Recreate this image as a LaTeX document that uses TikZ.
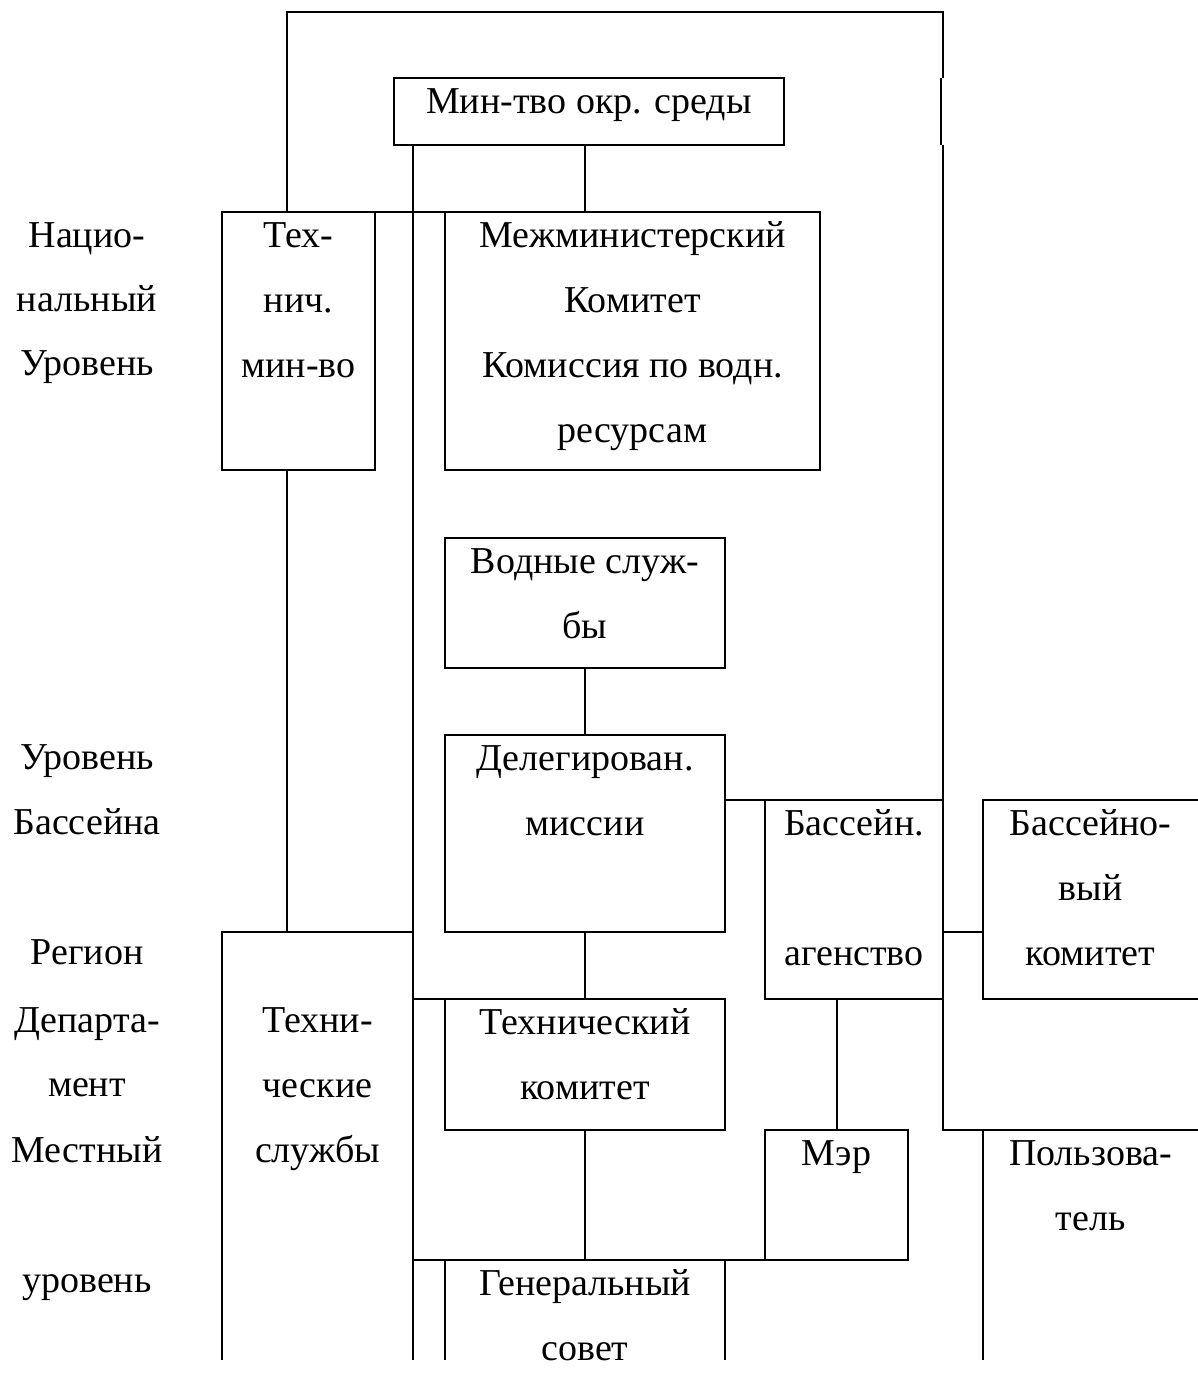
\documentclass[tikz,border=0pt]{standalone}
\usepackage{fontspec}
\setmainfont{Liberation Serif}

% a cell: width, height, lines of text set from the top
\newcommand{\cellbox}[3]{\parbox[t][#2][t]{#1}{\centering\rule{0pt}{17.5pt}#3}}

\tikzset{
  cell/.style={draw, inner sep=0pt, outer sep=0pt, anchor=north west},
  opencell/.style={cell, draw=none},
  lvl/.style={anchor=base},
}

\begin{document}
\begin{tikzpicture}[x=0.5pt, y=-0.5pt, line width=1pt,
    font=\fontsize{19}{32.5}\selectfont]
  \useasboundingbox (0,0) rectangle (1198,1386);

  % Boxes
  \node[cell] (min) at (394,78) {\cellbox{195pt}{33.5pt}{Мин-тво окр. среды}};
  \node[cell] (techmin) at (222,212) {\cellbox{76.5pt}{129pt}{Тех-\\нич.\\мин-во}};
  \node[cell] (interm) at (445,212) {\cellbox{187.5pt}{129pt}{Межминистерский\\Комитет\\Комиссия по водн.\\ресурсам}};
  \node[cell] (water) at (445,538) {\cellbox{140pt}{65pt}{Водные служ-\\бы}};
  \node[cell] (deleg) at (445,735) {\cellbox{140pt}{98.5pt}{Делегирован.\\миссии}};
  \node[cell] (basin) at (765,800) {\cellbox{89pt}{99.5pt}{Бассейн.\\\mbox{}\\агенство}};
  \node[opencell] (basincom) at (983,800) {\cellbox{107.5pt}{99.5pt}{Бассейно-\\вый\\комитет}};
  \node[opencell] (techserv) at (222,932) {\cellbox{95.5pt}{214pt}{\mbox{}\\Техни-\\ческие\\службы}};
  \node[cell] (techcom) at (445,999) {\cellbox{140pt}{65.5pt}{Технический\\комитет}};
  \node[cell] (mayor) at (765,1130) {\cellbox{71.5pt}{65pt}{Мэр}};
  \node[opencell] (user) at (983,1130) {\cellbox{107.5pt}{115pt}{Пользова-\\тель}};
  \node[opencell] (gencouncil) at (445,1260) {\cellbox{140pt}{50pt}{Генеральный\\совет}};

  % Open boxes (cut at the bottom / right)
  \draw (techserv.south west) |- (techserv.north east) -- (techserv.south east);
  \draw (gencouncil.south west) |- (gencouncil.north east) -- (gencouncil.south east);
  \draw (basincom.north east) -- (basincom.north west) -- (basincom.south west) -- (basincom.south east);
  \draw (user.south west) |- (user.north east);

  % Levels
  \node[lvl] (nat1) at (87,247) {Нацио-};
  \node[lvl] (nat2) at (87,311) {нальный};
  \node[lvl] (nat3) at (87,375) {Уровень};
  \node[lvl] (bas1) at (87,769) {Уровень};
  \node[lvl] (bas2) at (87,834) {Бассейна};
  \node[lvl] (reg) at (87,964) {Регион};
  \node[lvl] (dep1) at (87,1032) {Департа-};
  \node[lvl] (dep2) at (87,1096) {мент};
  \node[lvl] (loc1) at (87,1162) {Местный};
  \node[lvl] (loc2) at (87,1292) {уровень};

  % Frame over the top
  \coordinate (ftl) at (287,12);
  \coordinate (ftr) at (943,12);
  \coordinate (ftj) at (941,12);
  \coordinate (bot) at (0,1360);
  \draw (techmin.north -| ftl) -- (ftl) -- (ftr) -- (ftr |- min.north);
  \draw (ftj |- min.north) -- (ftj |- min.south);
  \draw (ftr |- min.south) -- (basin.north east);

  % Links
  \draw (min.south -| techserv.east) -- (bot -| techserv.east);
  \draw (min.south -| water.north) -- (interm.north -| water.north);
  \draw (techmin.north east) -- (interm.north west);
  \draw (techmin.south -| ftl) -- (techserv.north -| ftl);
  \draw (water.south) -- (deleg.north);
  \draw (deleg.east |- basin.north) -- (basin.north west);
  \draw (deleg.south -| basin.east) -- (deleg.south -| basincom.west);
  \draw (deleg.south) -- (techcom.north);
  \draw (techcom.north west -| techserv.east) -- (techcom.north west);
  \draw (basin.south east) |- (user.north west);
  \draw (mayor.north |- basin.south) -- (mayor.north);
  \draw (techcom.south) -- (gencouncil.north);
  \draw (gencouncil.north -| techserv.east) -- (mayor.south east);
\end{tikzpicture}
\end{document}
